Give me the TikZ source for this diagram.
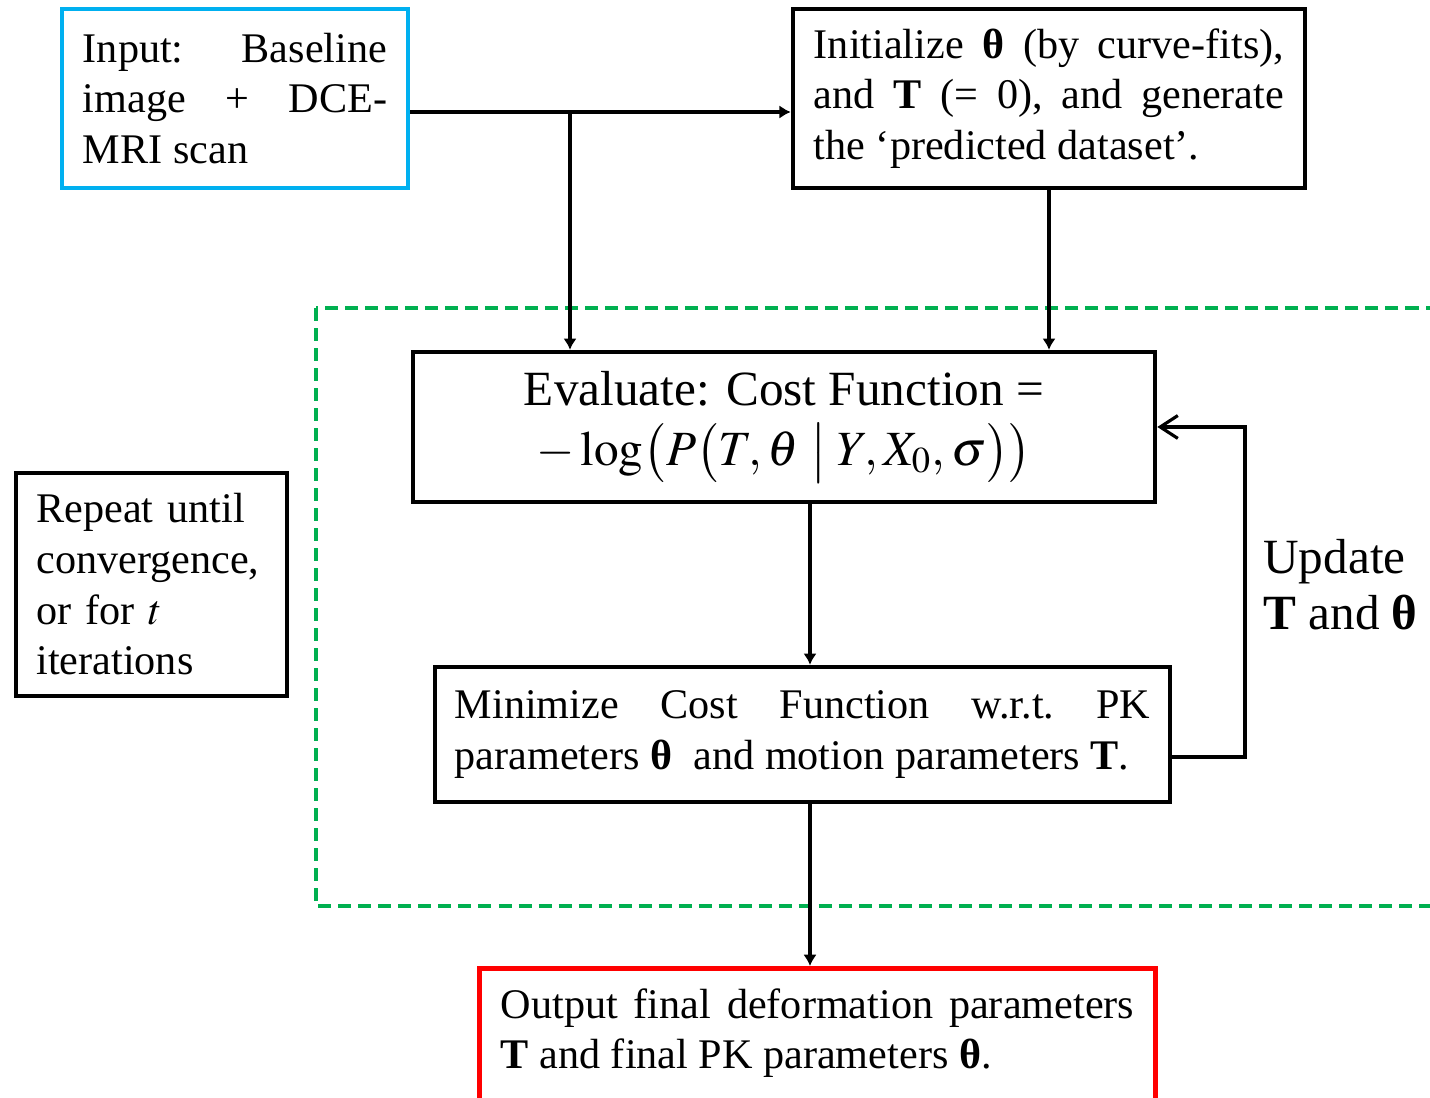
\documentclass[tikz,border=0pt]{standalone}
\usepackage{mathptmx}
\usepackage{fontspec}
\setmainfont{Liberation Serif}
\usetikzlibrary{positioning, arrows.meta, calc}

\definecolor{inputblue}{RGB}{0,176,240}
\definecolor{loopgreen}{RGB}{0,176,80}
\definecolor{outputred}{RGB}{255,0,0}

\newcommand{\boxfont}{\fontsize{12}{14.4}\selectfont\hyphenpenalty=10000\frenchspacing\relax}

\begin{document}
\begin{tikzpicture}[x=0.01cm, y=-0.01cm,
        stepbox/.style={rectangle, draw, line width=1.2pt, inner sep=0pt, align=justify, font=\boxfont},
        inputbox/.style={stepbox, draw=inputblue},
        outputbox/.style={stepbox, draw=outputred, line width=1.4pt},
        loopbox/.style={draw=loopgreen, line width=1.2pt, dash pattern=on 0.13cm off 0.07cm},
        connection/.style={-{Latex[length=3.2pt, width=3.8pt]}, line width=0.9pt},
        feedback/.style={-{Straight Barb[length=5pt, width=6.5pt]}, line width=0.9pt},
        label/.style={font=\fontsize{14}{16}\selectfont, align=left}
    ]
        \useasboundingbox (0,0) rectangle (1430,1098);

        % Iteration region
        \draw[loopbox] (316,308) rectangle (1460,906);

        % Input and initialization
        \node[inputbox, text width=3.04cm, minimum width=3.46cm, minimum height=1.79cm] (input) at (235,98.5)
            {Input: Baseline image + DCE-MRI scan};
        \node[stepbox, text width=4.70cm, minimum width=5.12cm, minimum height=1.79cm] (init) at (1049,98.5)
            {Initialize \textbf{θ} (by curve-fits), and \textbf{T} (= 0), and generate\linebreak the `predicted dataset'.};

        % Cost function
        \node[stepbox, align=center, font=\fontsize{14}{17}\selectfont, minimum width=7.42cm, minimum height=1.50cm] (eval) at (784,427)
            {Evaluate: Cost Function =\\ $-\log\bigl(P\bigl(T,\theta\bigm|Y,X_{0},\sigma\bigr)\bigr)$};

        % Optimization step
        \node[stepbox, text width=6.95cm, minimum width=7.35cm, minimum height=1.35cm] (mini) at (802.5,734.5)
            {Minimize Cost Function w.r.t. PK parameters \textbf{θ}\ \ and motion parameters \textbf{T}.};

        % Stopping rule
        \node[stepbox, align=left, text width=2.30cm, minimum width=2.71cm, minimum height=2.23cm] (repeat) at (151.5,584.5)
            {Repeat until\\ convergence,\\ or for $t$\\ iterations};

        % Output
        \node[outputbox, anchor=north, inner ysep=0.2cm, text depth=1.1cm, text width=6.33cm, minimum width=6.75cm] (out) at (817.5,966)
            {Output final deformation parameters \textbf{T} and final PK parameters \textbf{θ}.};

        % Update label
        \node[label, anchor=west] (update) at (1251,585) {Update\\ \textbf{T} and \textbf{θ}};

        % Helper points
        \coordinate (branch) at (570,112);
        \coordinate (spine) at (810,0);
        \coordinate (fb) at (1245,757);

        % Connections
        \draw[connection] (input.east |- branch) -- (init.west |- branch);
        \draw[connection] (branch) -- (branch |- eval.north);
        \draw[connection] (init.south) -- (init.south |- eval.north);
        \draw[connection] (eval.south -| spine) -- (mini.north -| spine);
        \draw[feedback] (mini.east |- fb) -- (fb) |- (eval.east);
        \draw[connection] (mini.south -| spine) -- (out.north -| spine);
    \end{tikzpicture}
\end{document}
